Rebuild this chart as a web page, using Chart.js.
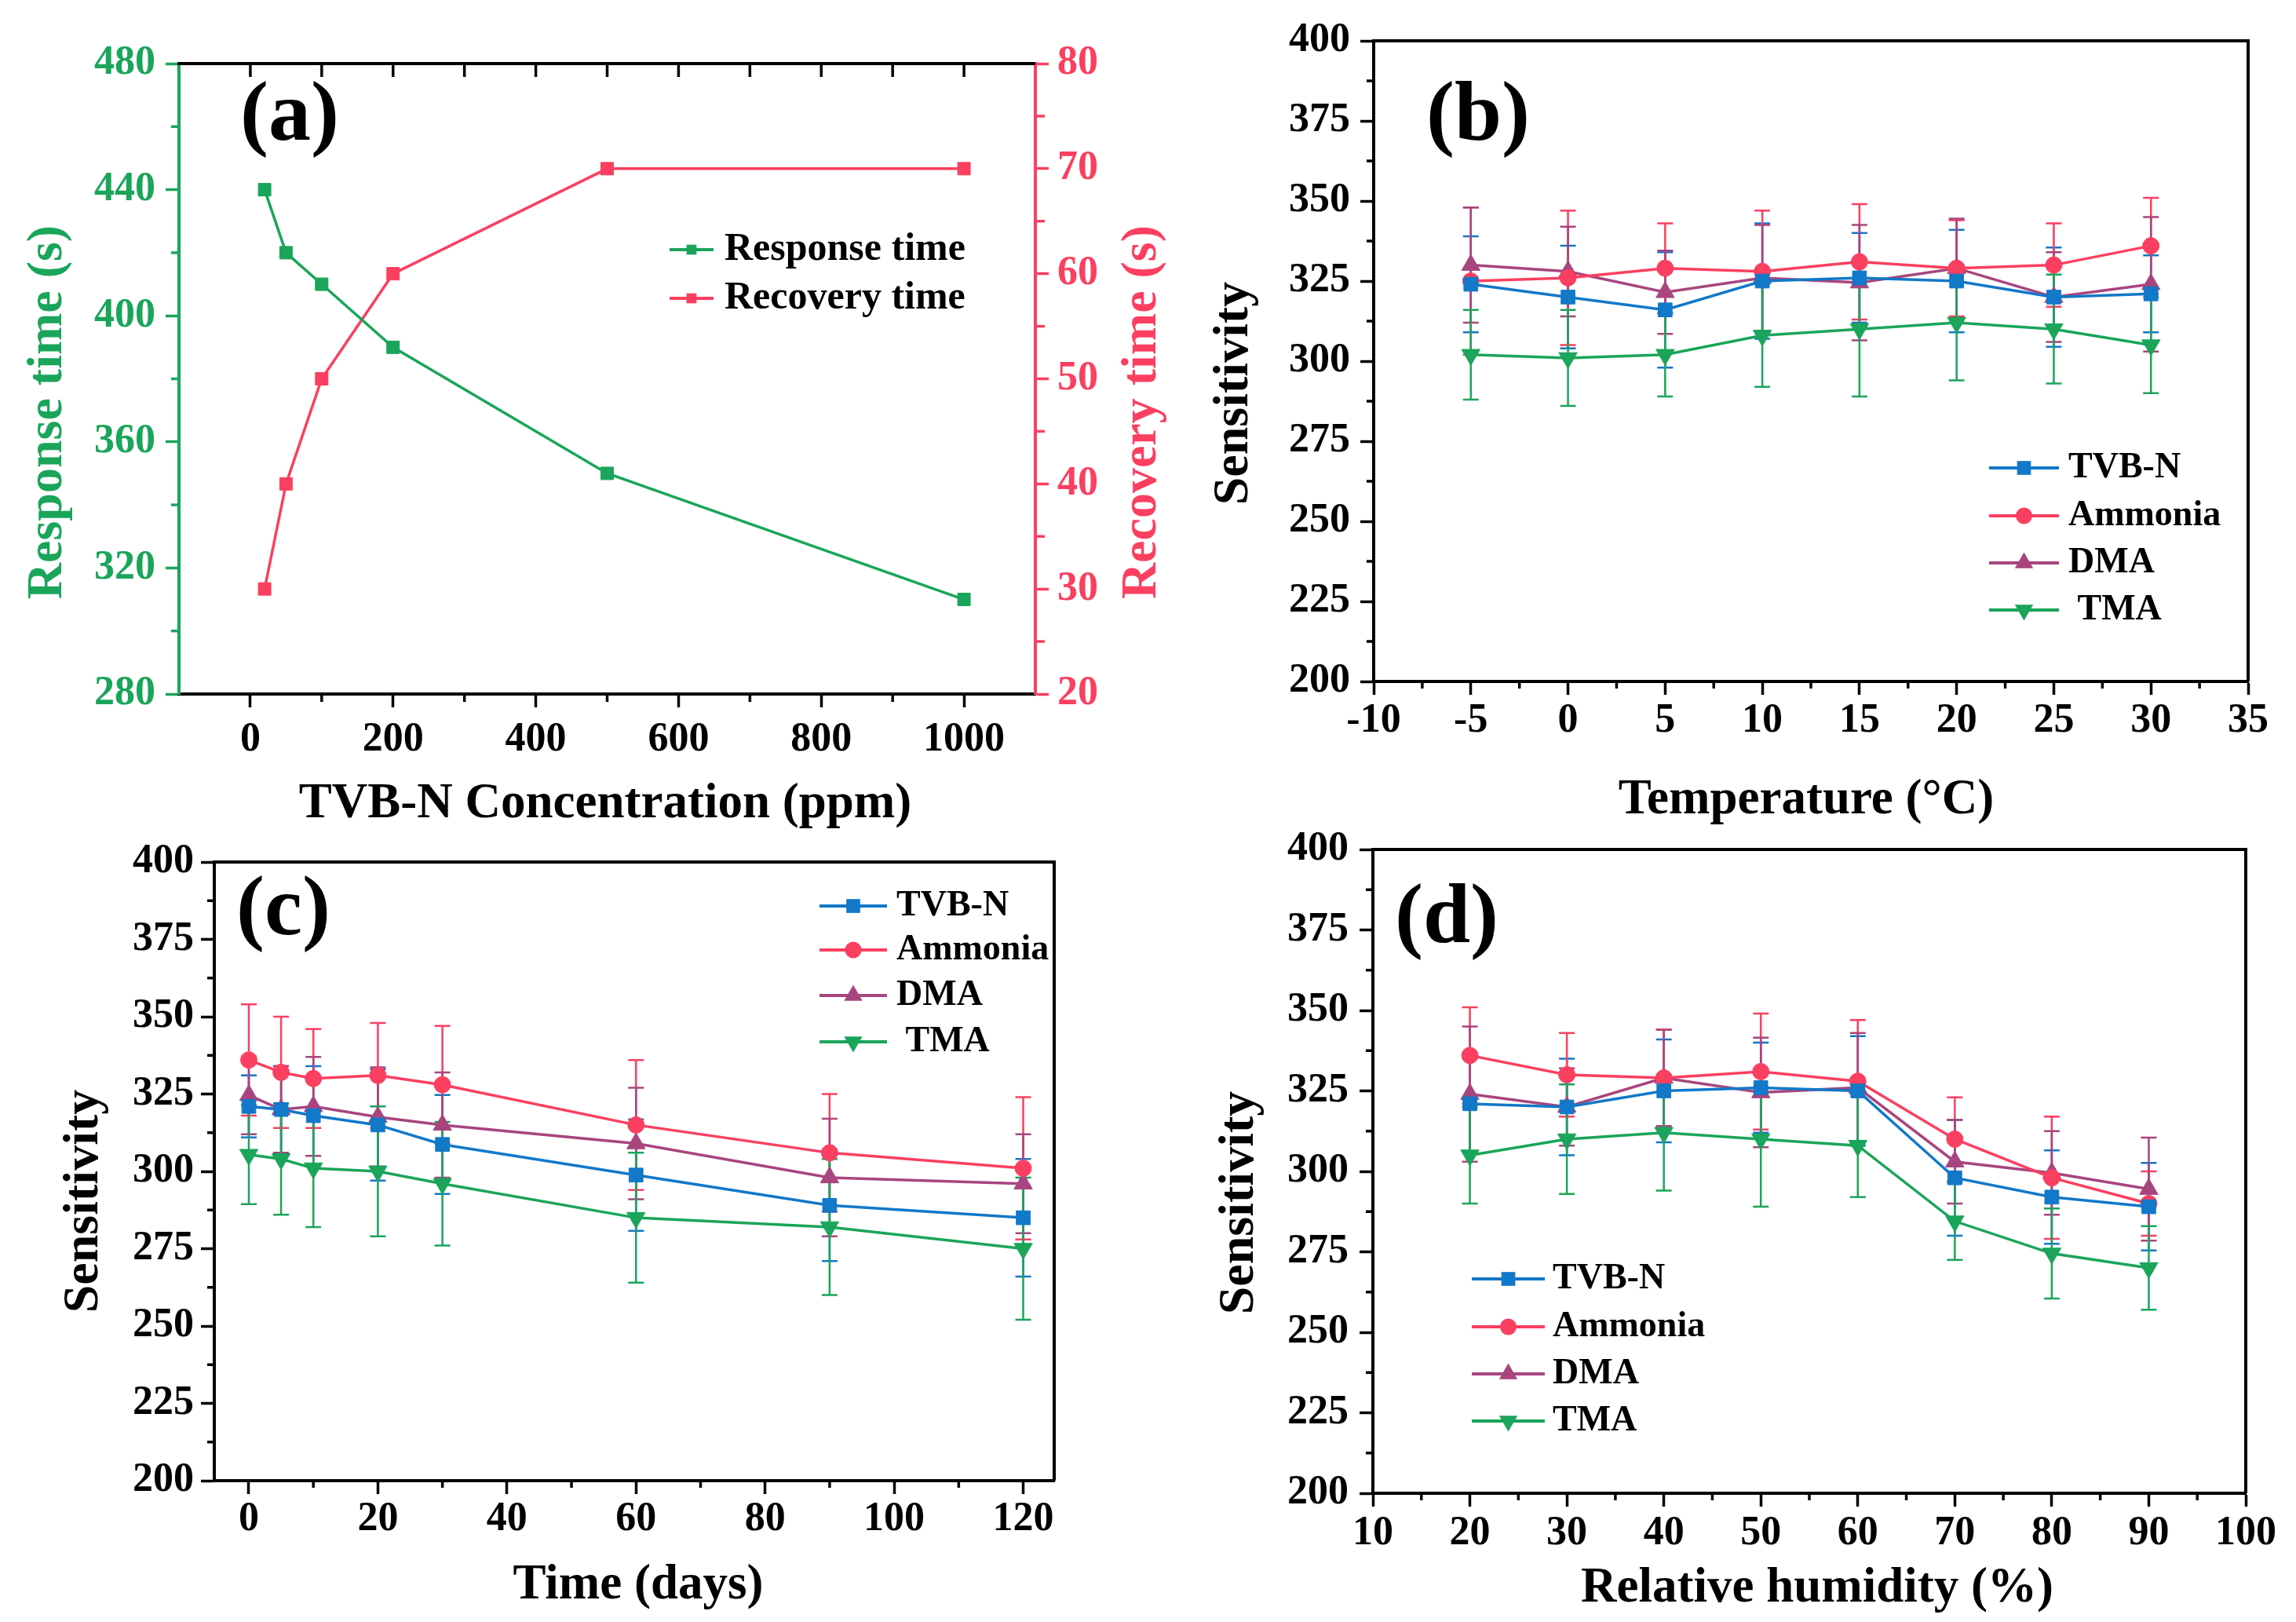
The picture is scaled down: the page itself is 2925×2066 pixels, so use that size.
<!DOCTYPE html>
<html>
<head>
<meta charset="utf-8">
<script src="https://cdn.jsdelivr.net/npm/chart.js@4.4.1/dist/chart.umd.min.js"></script>
<style>
  html, body { margin: 0; padding: 0; background: #fff; }
  body { position: relative; width: 2925px; height: 2066px; overflow: hidden; }
  canvas { position: absolute; }
</style>
</head>
<body>
<canvas id="chartB" width="1463" height="1060" style="left:1462px;top:0"></canvas>
<canvas id="chartA" width="1510" height="1060" style="left:0;top:0"></canvas>
<canvas id="chartC" width="1462" height="1006" style="left:0;top:1060px"></canvas>
<canvas id="chartD" width="1463" height="1006" style="left:1462px;top:1060px"></canvas>
<script>
// ================= DATA =================
// (a) response / recovery vs concentration
const concPpm = [20, 50, 100, 200, 500, 1000];
const responseTime = [440, 420, 410, 390, 350, 310];
const recoveryTime = [30, 40, 50, 60, 70, 70];

// (b) sensitivity vs temperature
const tempC = [-5, 0, 5, 10, 15, 20, 25, 30];
const tempTvbn = [324, 320, 316, 325, 326, 325, 320, 321];
const tempTvbnErr = [15, 16, 18, 18, 14, 16, 15.5, 12];
const tempAmmonia = [325, 326, 329, 328, 331, 329, 330, 336];
const tempAmmoniaErr = [23, 21, 14, 19, 18, 15, 13, 15];
const tempDma = [330, 328, 321.5, 326, 324.5, 329, 320, 324];
const tempDmaErr = [18, 14, 13, 16.5, 18, 15.5, 14, 21];
const tempTma = [302, 301, 302, 308, 310, 312, 310, 305];
const tempTmaErr = [14, 15, 13, 16, 21, 18, 17, 15];

// (c) sensitivity vs storage time
const days = [0, 5, 10, 20, 30, 60, 90, 120];
const dayTvbn = [321, 320, 318, 315, 308.7, 298.8, 289, 285];
const dayTvbnErr = [10, 14, 16, 18, 16, 18, 18, 19];
const dayAmmonia = [336, 332, 330, 331, 328, 315, 306, 301];
const dayAmmoniaErr = [18, 18, 16, 17, 19, 21, 19, 23];
const dayDma = [324.6, 320, 321, 317.6, 315, 309, 298, 296];
const dayDmaErr = [12.6, 14, 16, 16, 17, 18, 19, 16];
const dayTma = [305.4, 304, 301, 300, 296, 285, 282, 275];
const dayTmaErr = [16, 18, 19, 21, 20, 21, 22, 23];

// (d) sensitivity vs relative humidity
const humidity = [20, 30, 40, 50, 60, 70, 80, 90];
const rhTvbn = [321, 320, 325, 326, 325, 298, 292, 289];
const rhTvbnErr = [15, 15, 16, 14, 17, 18, 14.5, 13.6];
const rhAmmonia = [336, 330, 329, 331, 328, 310, 298, 290];
const rhAmmoniaErr = [15, 13, 15, 18, 19, 13, 19, 10];
const rhDma = [324, 320, 329, 324.5, 326, 303, 299.5, 294.5];
const rhDmaErr = [21, 12, 15, 17, 17, 13, 13, 16];
const rhTma = [305, 310, 312, 310, 308, 284.5, 274.5, 270];
const rhTmaErr = [15, 17, 18, 21, 16, 12, 14, 13];

// ================= TICKS =================
const concTicks = [0, 200, 400, 600, 800, 1000];
const concMinor = [100, 300, 500, 700, 900];
const concTopTicks = [0, 100, 200, 300, 400, 500, 600, 700, 800, 900, 1000];
const respTicks = [280, 320, 360, 400, 440, 480];
const respMinor = [300, 340, 380, 420, 460];
const recTicks = [20, 30, 40, 50, 60, 70, 80];
const recMinor = [25, 35, 45, 55, 65, 75];
const tempTicks = [-10, -5, 0, 5, 10, 15, 20, 25, 30, 35];
const tempMinor = [-7.5, -2.5, 2.5, 7.5, 12.5, 17.5, 22.5, 27.5, 32.5];
const sensTicks = [200, 225, 250, 275, 300, 325, 350, 375, 400];
const sensMinor = [212.5, 237.5, 262.5, 287.5, 312.5, 337.5, 362.5, 387.5];
const dayTicks = [0, 20, 40, 60, 80, 100, 120];
const dayMinor = [10, 30, 50, 70, 90, 110];
const rhTicks = [10, 20, 30, 40, 50, 60, 70, 80, 90, 100];
const rhMinor = [15, 25, 35, 45, 55, 65, 75, 85, 95];

const gasNames = ["TVB-N", "Ammonia", "DMA", "TMA"];

// ================= STYLE =================
const serif = "'Liberation Serif', 'Times New Roman', serif";
const GREEN = "#1aa55a";
const PINK = "#fb3f60";
const BLUE = "#1278c8";
const PURPLE = "#a8457f";

// ================= HELPERS =================
function fixBox(scale, size) {
  if (scale.isHorizontal()) scale.height = size;
  else scale.width = size;
  scale.paddingTop = 0;
  scale.paddingBottom = 0;
  scale.paddingLeft = 0;
  scale.paddingRight = 0;
}

function axis(o) {
  return {
    type: "linear",
    position: o.position,
    min: o.min,
    max: o.max,
    afterBuildTicks: s => { s.ticks = o.ticks.map(v => ({ value: v })); },
    afterFit: s => fixBox(s, o.size),
    ticks: {
      font: { family: serif, size: o.fontSize || 52, weight: "bold", lineHeight: 1.2 },
      color: o.color || "#000",
      padding: o.padding,
      autoSkip: false,
      maxRotation: 0,
      callback: v => String(v)
    },
    grid: { drawOnChartArea: false, drawTicks: true, tickLength: 17, tickWidth: 3.5, tickColor: o.color || "#000" },
    border: { display: true, color: o.color || "#000", width: 4 }
  };
}

function series(label, xs, ys, errs, color, style, radius, rotation, yAxisID) {
  return {
    label,
    data: xs.map((x, i) => ({ x, y: ys[i] })),
    errors: errs,
    yAxisID: yAxisID || "y",
    borderColor: color,
    backgroundColor: color,
    pointBackgroundColor: color,
    pointBorderColor: color,
    pointBorderWidth: 1,
    borderWidth: 3.5,
    pointStyle: style,
    pointRadius: radius,
    pointRotation: rotation || 0,
    showLine: true,
    tension: 0
  };
}

function gasSeries(xs, tv, tvE, am, amE, dm, dmE, tm, tmE) {
  return [
    series(gasNames[0], xs, tv, tvE, BLUE, "rect", 12.5),
    series(gasNames[1], xs, am, amE, PINK, "circle", 10.5),
    series(gasNames[2], xs, dm, dmE, PURPLE, "triangle", 13.5),
    series(gasNames[3], xs, tm, tmE, GREEN, "triangle", 13.5, 180)
  ];
}

function drawText(ctx, t) {
  ctx.save();
  ctx.translate(t.x, t.y);
  if (t.rotate) ctx.rotate(t.rotate);
  ctx.font = "bold " + t.size + "px " + serif;
  ctx.fillStyle = t.color || "#000";
  ctx.textAlign = t.align || "center";
  ctx.textBaseline = "middle";
  ctx.fillText(t.text, 0, 0);
  ctx.restore();
}

// ================= DECOR PLUGIN =================
// error bars, frame, minor ticks, titles, legend, panel letter
const decor = {
  id: "decor",
  beforeDatasetsDraw(chart) {
    const ctx = chart.ctx;
    chart.data.datasets.forEach((ds, i) => {
      if (!ds.errors) return;
      const meta = chart.getDatasetMeta(i);
      const xs = chart.scales[meta.xAxisID];
      const ys = chart.scales[meta.yAxisID];
      ctx.save();
      ctx.strokeStyle = ds.borderColor;
      ctx.lineWidth = 2.5;
      ds.data.forEach((p, j) => {
        const x = xs.getPixelForValue(p.x);
        const hi = ys.getPixelForValue(p.y + ds.errors[j]);
        const lo = ys.getPixelForValue(p.y - ds.errors[j]);
        ctx.beginPath();
        ctx.moveTo(x, hi); ctx.lineTo(x, lo);
        ctx.moveTo(x - 10, hi); ctx.lineTo(x + 10, hi);
        ctx.moveTo(x - 10, lo); ctx.lineTo(x + 10, lo);
        ctx.stroke();
      });
      ctx.restore();
    });
  },
  afterDraw(chart, args, o) {
    const ctx = chart.ctx;
    const a = chart.chartArea;
    ctx.save();
    ctx.lineCap = "butt";

    // top / right frame
    ctx.strokeStyle = "#000";
    ctx.lineWidth = 4;
    ctx.beginPath();
    ctx.moveTo(a.left - 2, a.top);
    ctx.lineTo(a.right, a.top);
    if (o.rightFrame) ctx.lineTo(a.right, a.bottom);
    ctx.stroke();

    // minor + extra ticks
    (o.minor || []).forEach(m => {
      const s = chart.scales[m.axis];
      ctx.strokeStyle = m.color || "#000";
      ctx.lineWidth = 3.5;
      m.values.forEach(v => {
        const p = s.getPixelForValue(v);
        ctx.beginPath();
        if (m.side === "bottom") { ctx.moveTo(p, a.bottom); ctx.lineTo(p, a.bottom + m.len); }
        if (m.side === "top") { ctx.moveTo(p, a.top); ctx.lineTo(p, a.top + m.len); }
        if (m.side === "left") { ctx.moveTo(a.left - m.len, p); ctx.lineTo(a.left, p); }
        if (m.side === "right") { ctx.moveTo(a.right, p); ctx.lineTo(a.right + m.len, p); }
        ctx.stroke();
      });
    });

    // titles and panel letter
    (o.texts || []).forEach(t => drawText(ctx, t));

    // legend
    const lg = o.legend;
    if (lg) {
      chart.data.datasets.forEach((ds, i) => {
        const y = lg.ys[i];
        ctx.strokeStyle = ds.borderColor;
        ctx.lineWidth = 4;
        ctx.beginPath();
        ctx.moveTo(lg.x0, y);
        ctx.lineTo(lg.x1, y);
        ctx.stroke();
        ctx.fillStyle = ds.borderColor;
        Chart.helpers.drawPoint(ctx, {
          pointStyle: ds.pointStyle,
          radius: lg.radius ? lg.radius : ds.pointRadius,
          rotation: ds.pointRotation,
          borderWidth: 0
        }, (lg.x0 + lg.x1) / 2, y);
        drawText(ctx, { text: (lg.prefix && lg.prefix[i]) ? lg.prefix[i] + ds.label : ds.label,
          x: lg.tx, y: y, size: lg.size, align: "left" });
      });
    }
    ctx.restore();
  }
};

function baseOptions(padding, scales, decorOpts) {
  return {
    responsive: false,
    animation: false,
    devicePixelRatio: 1,
    layout: { padding },
    scales,
    plugins: { legend: { display: false }, tooltip: { enabled: false }, decor: decorOpts }
  };
}

// ================= CHART A =================
new Chart(document.getElementById("chartA"), {
  type: "scatter",
  data: {
    datasets: [
      series("Response time", concPpm, responseTime, null, GREEN, "rect", 11.3, 0, "y"),
      series("Recovery time", concPpm, recoveryTime, null, PINK, "rect", 11.3, 0, "y2")
    ]
  },
  options: baseOptions(
    { top: 81, right: 0, left: 0, bottom: 0 },
    {
      x: axis({ position: "bottom", min: -100, max: 1100, ticks: concTicks, size: 176, padding: 10 }),
      y: axis({ position: "left", min: 280, max: 480, ticks: respTicks, size: 228, padding: 13, color: GREEN }),
      y2: axis({ position: "right", min: 20, max: 80, ticks: recTicks, size: 191, padding: 11, color: PINK })
    },
    {
      rightFrame: false,
      minor: [
        { axis: "x", values: concMinor, side: "bottom", len: 10 },
        { axis: "x", values: concTopTicks, side: "top", len: 17 },
        { axis: "y", values: respMinor, side: "left", len: 10, color: GREEN },
        { axis: "y2", values: recMinor, side: "right", len: 12, color: PINK }
      ],
      texts: [
        { text: "(a)", x: 369, y: 150, size: 108 },
        { text: "TVB-N Concentration (ppm)", x: 771, y: 1025, size: 63 },
        { text: "Response time (s)", x: 61, y: 525, size: 64, rotate: -Math.PI / 2, color: GREEN },
        { text: "Recovery time (s)", x: 1455, y: 525, size: 64, rotate: -Math.PI / 2, color: PINK }
      ],
      legend: { x0: 853, x1: 909, tx: 923, ys: [318, 380], size: 50, radius: 9 }
    }
  ),
  plugins: [decor]
});

// ================= CHART B =================
new Chart(document.getElementById("chartB"), {
  type: "scatter",
  data: { datasets: gasSeries(tempC, tempTvbn, tempTvbnErr, tempAmmonia, tempAmmoniaErr, tempDma, tempDmaErr, tempTma, tempTmaErr) },
  options: baseOptions(
    { top: 52, right: 61, left: 0, bottom: 0 },
    {
      x: axis({ position: "bottom", min: -10, max: 35, ticks: tempTicks, size: 192, padding: 2 }),
      y: axis({ position: "left", min: 200, max: 400, ticks: sensTicks, size: 288, padding: 13 })
    },
    {
      rightFrame: true,
      minor: [
        { axis: "x", values: tempMinor, side: "bottom", len: 9 },
        { axis: "y", values: sensMinor, side: "left", len: 9 }
      ],
      texts: [
        { text: "(b)", x: 421, y: 150, size: 108 },
        { text: "Temperature (\u00B0C)", x: 839, y: 1020, size: 63 },
        { text: "Sensitivity", x: 110, y: 501, size: 64, rotate: -Math.PI / 2 }
      ],
      legend: { x0: 1072, x1: 1161, tx: 1173, ys: [596, 657, 717, 777], size: 46, prefix: ["", "", "", " "] }
    }
  ),
  plugins: [decor]
});

// ================= CHART C =================
new Chart(document.getElementById("chartC"), {
  type: "scatter",
  data: { datasets: gasSeries(days, dayTvbn, dayTvbnErr, dayAmmonia, dayAmmoniaErr, dayDma, dayDmaErr, dayTma, dayTmaErr) },
  options: baseOptions(
    { top: 38, right: 119, left: 0, bottom: 0 },
    {
      x: axis({ position: "bottom", min: -5.35, max: 124.8, ticks: dayTicks, size: 180, padding: 1 }),
      y: axis({ position: "left", min: 200, max: 400, ticks: sensTicks, size: 273, padding: 9 })
    },
    {
      rightFrame: true,
      minor: [
        { axis: "x", values: dayMinor, side: "bottom", len: 9 },
        { axis: "y", values: sensMinor, side: "left", len: 9 }
      ],
      texts: [
        { text: "(c)", x: 361, y: 102, size: 108 },
        { text: "Time (days)", x: 813, y: 960, size: 63 },
        { text: "Sensitivity", x: 107, y: 470, size: 64, rotate: -Math.PI / 2 }
      ],
      legend: { x0: 1044, x1: 1130, tx: 1142, ys: [94, 150, 208, 267], size: 46, prefix: ["", "", "", " "] }
    }
  ),
  plugins: [decor]
});

// ================= CHART D =================
new Chart(document.getElementById("chartD"), {
  type: "scatter",
  data: { datasets: gasSeries(humidity, rhTvbn, rhTvbnErr, rhAmmonia, rhAmmoniaErr, rhDma, rhDmaErr, rhTma, rhTmaErr) },
  options: baseOptions(
    { top: 22, right: 64, left: 0, bottom: 0 },
    {
      x: axis({ position: "bottom", min: 10, max: 100, ticks: rhTicks, size: 164, padding: 3 }),
      y: axis({ position: "left", min: 200, max: 400, ticks: sensTicks, size: 287, padding: 14 })
    },
    {
      rightFrame: true,
      minor: [
        { axis: "x", values: rhMinor, side: "bottom", len: 9 },
        { axis: "y", values: sensMinor, side: "left", len: 9 }
      ],
      texts: [
        { text: "(d)", x: 381, y: 112, size: 108 },
        { text: "Relative humidity (%)", x: 853, y: 964, size: 63 },
        { text: "Sensitivity", x: 117, y: 472, size: 64, rotate: -Math.PI / 2 }
      ],
      legend: { x0: 413, x1: 506, tx: 516, ys: [569, 630, 690, 750], size: 46 }
    }
  ),
  plugins: [decor]
});
</script>
</body>
</html>
